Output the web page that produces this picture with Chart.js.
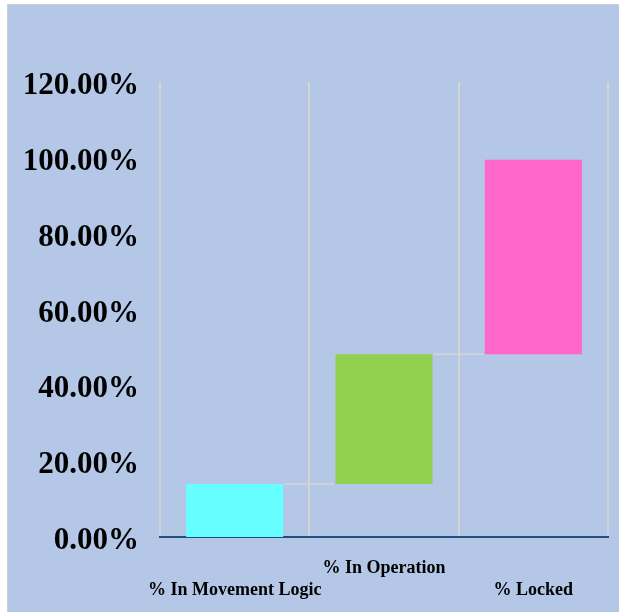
<!DOCTYPE html>
<html>
<head>
<meta charset="utf-8">
<script src="https://cdn.jsdelivr.net/npm/chart.js@4/dist/chart.umd.min.js"></script>
<style>
  html, body { margin: 0; padding: 0; background: #ffffff; }
  #frame { position: absolute; left: 7px; top: 4px; width: 611px; height: 607px;
           border-left: 1px solid #cfcfcf; border-top: 1px solid #cfcfcf; background: #b4c7e7; }
  #wrap { position: absolute; left: 0; top: 0; width: 611px; height: 607px; }
</style>
</head>
<body>
<div id="frame"><div id="wrap"><canvas id="c"></canvas></div></div>
<script>
// Waterfall data (percent)
const categories = [['', '% In Movement Logic'], ['% In Operation', ''], ['', '% Locked']];
const startValues = [0, 14, 48.2];
const endValues = [14, 48.2, 99.5];
const barColors = ['#66ffff', '#92d050', '#ff66cc'];
const yTicks = { min: 0, max: 120, step: 20 };

const connectorPlugin = {
  id: 'connectors',
  afterDatasetsDraw(chart) {
    const meta = chart.getDatasetMeta(0);
    const yScale = chart.scales.y;
    const ctx = chart.ctx;
    ctx.save();
    ctx.strokeStyle = '#d6d6d6';
    ctx.lineWidth = 1.5;
    for (let i = 0; i < meta.data.length - 1; i++) {
      const a = meta.data[i], b = meta.data[i + 1];
      const y = yScale.getPixelForValue(endValues[i]);
      ctx.beginPath();
      ctx.moveTo(a.x + a.width / 2 + 1, y);
      ctx.lineTo(b.x - b.width / 2 - 1, y);
      ctx.stroke();
    }
    ctx.restore();
  }
};

new Chart(document.getElementById('c'), {
  type: 'bar',
  data: {
    labels: categories,
    datasets: [{
      data: startValues.map((s, i) => [s, endValues[i]]),
      backgroundColor: barColors,
      borderWidth: 0,
      barPercentage: 0.65,
      categoryPercentage: 1.0
    }]
  },
  options: {
    responsive: true,
    maintainAspectRatio: false,
    animation: false,
    layout: { padding: { left: 0, right: 11, top: 77, bottom: 0 } },
    plugins: { legend: { display: false }, tooltip: { enabled: false } },
    scales: {
      x: {
        offset: true,
        grid: { offset: true, color: '#d4d4d4', lineWidth: 2, drawTicks: false },
        border: { display: true, color: '#1f4e79', width: 2 },
        ticks: {
          color: '#000000', padding: 21, maxRotation: 0, autoSkip: false,
          font: { family: 'Liberation Serif', weight: 'bold', size: 18, lineHeight: 1.2 }
        },
        afterFit(s) { s.height = 75; }
      },
      y: {
        min: yTicks.min, max: yTicks.max,
        grid: { display: false, drawTicks: false },
        border: { display: false },
        ticks: {
          stepSize: yTicks.step, color: '#000000', padding: 21,
          font: { family: 'Liberation Serif', weight: 'bold', size: 31, lineHeight: '8px' },
          callback: v => ['', v.toFixed(2) + '%']
        },
        afterFit(s) { s.width = 152; }
      }
    }
  },
  plugins: [connectorPlugin]
});
</script>
</body>
</html>
